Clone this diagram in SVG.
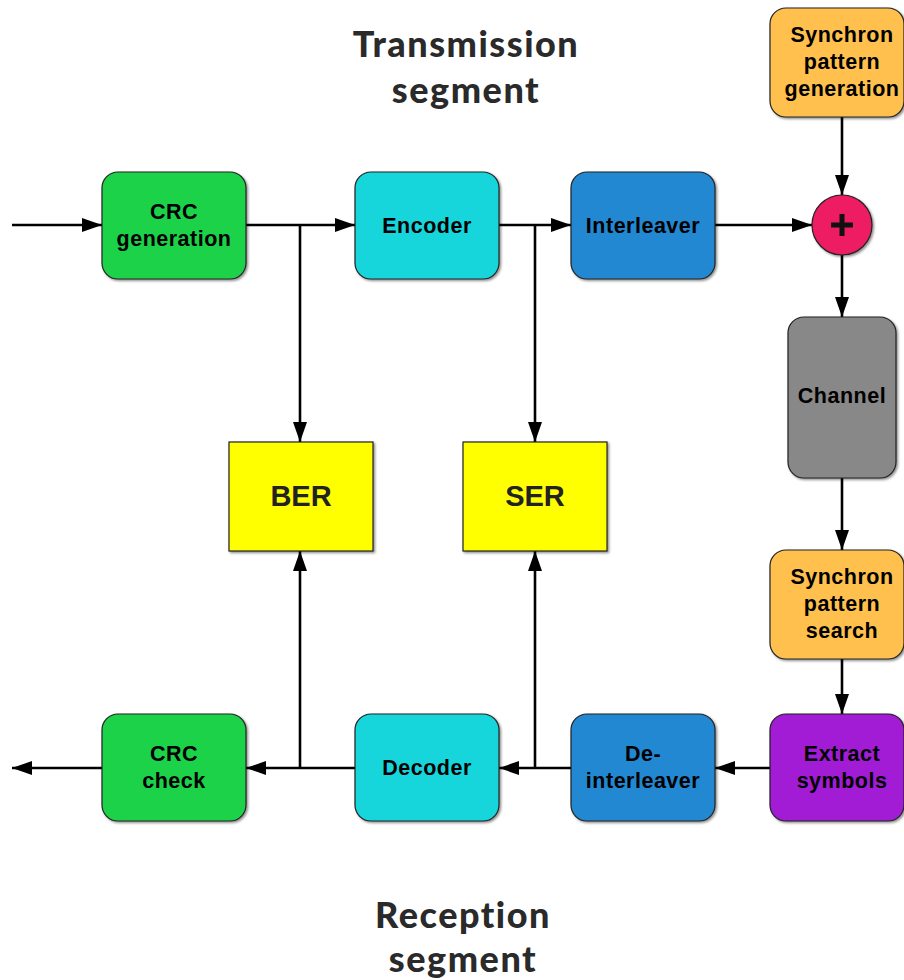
<svg xmlns="http://www.w3.org/2000/svg" width="904" height="980" viewBox="0 0 904 980">
  <defs>
    <marker id="arrow" viewBox="0 0 20 14" refX="20" refY="7" markerWidth="20" markerHeight="14" markerUnits="userSpaceOnUse" orient="auto">
      <path d="M0,0 L20,7 L0,14 Z" fill="#000"/>
    </marker>
    <filter id="shadow" x="-10%" y="-10%" width="130%" height="130%">
      <feDropShadow dx="1.5" dy="1.5" stdDeviation="0.8" flood-color="#000" flood-opacity="0.45"/>
    </filter>
  </defs>
  <style>
    .box { stroke: #222; stroke-width: 1.2; filter: url(#shadow); }
    .lbl { font-family: "Liberation Sans", Arial, sans-serif; font-weight: bold; font-size: 21.5px; letter-spacing: 0.5px; fill: #000; text-anchor: middle; }
    .big { font-family: "Liberation Sans", Arial, sans-serif; font-weight: bold; font-size: 29px; fill: #222; text-anchor: middle; }
    .title { font-family: "Lato", "Liberation Sans", sans-serif; font-weight: 900; font-size: 36px; fill: #2a2a2a; text-anchor: middle; letter-spacing: 1.5px; }
    .wire { stroke: #000; stroke-width: 2.6; fill: none; }
  </style>
  <rect width="904" height="980" fill="#fff"/>

  <g id="titles">
    <text class="title" x="466" y="57">Transmission</text>
    <text class="title" x="466" y="103">segment</text>
    <text class="title" x="463" y="928">Reception</text>
    <text class="title" x="463" y="972">segment</text>
  </g>

  <g id="connectors">
    <path class="wire" d="M12,225 H102" marker-end="url(#arrow)"/>
    <path class="wire" d="M246,225 H355" marker-end="url(#arrow)"/>
    <path class="wire" d="M300,225 V442" marker-end="url(#arrow)"/>
    <path class="wire" d="M499,225 H571" marker-end="url(#arrow)"/>
    <path class="wire" d="M535,225 V442" marker-end="url(#arrow)"/>
    <path class="wire" d="M715,225 H812" marker-end="url(#arrow)"/>
    <path class="wire" d="M842,117 V195" marker-end="url(#arrow)"/>
    <path class="wire" d="M842,255 V317" marker-end="url(#arrow)"/>
    <path class="wire" d="M842,478 V550" marker-end="url(#arrow)"/>
    <path class="wire" d="M842,659 V714" marker-end="url(#arrow)"/>
    <path class="wire" d="M770,768 H715" marker-end="url(#arrow)"/>
    <path class="wire" d="M571,768 H499" marker-end="url(#arrow)"/>
    <path class="wire" d="M535,768 V551" marker-end="url(#arrow)"/>
    <path class="wire" d="M355,768 H246" marker-end="url(#arrow)"/>
    <path class="wire" d="M300,768 V551" marker-end="url(#arrow)"/>
    <path class="wire" d="M102,768 H12" marker-end="url(#arrow)"/>
  </g>

  <g id="crc-generation">
    <rect class="box" x="102" y="172" width="144" height="107" rx="16" fill="#1ED248"/>
    <text class="lbl" x="174" y="219">CRC</text>
    <text class="lbl" x="174" y="246">generation</text>
  </g>
  <g id="encoder">
    <rect class="box" x="355" y="172" width="144" height="107" rx="16" fill="#17D6DC"/>
    <text class="lbl" x="427" y="233">Encoder</text>
  </g>
  <g id="interleaver">
    <rect class="box" x="571" y="172" width="144" height="107" rx="16" fill="#2288D2"/>
    <text class="lbl" x="643" y="233">Interleaver</text>
  </g>
  <g id="sync-generation">
    <rect class="box" x="770" y="8" width="134" height="109" rx="16" fill="#FFC04D"/>
    <text class="lbl" x="842" y="42">Synchron</text>
    <text class="lbl" x="842" y="69">pattern</text>
    <text class="lbl" x="842" y="96">generation</text>
  </g>
  <g id="adder">
    <circle class="box" cx="842" cy="225" r="30" fill="#EE1A64"/>
    <path d="M842,214 V236 M831,225 H853" stroke="#111" stroke-width="5"/>
  </g>
  <g id="channel">
    <rect class="box" x="788" y="317" width="108" height="161" rx="16" fill="#888888"/>
    <text class="lbl" x="842" y="403">Channel</text>
  </g>
  <g id="sync-search">
    <rect class="box" x="770" y="550" width="134" height="109" rx="16" fill="#FFC04D"/>
    <text class="lbl" x="842" y="584">Synchron</text>
    <text class="lbl" x="842" y="611">pattern</text>
    <text class="lbl" x="842" y="638">search</text>
  </g>
  <g id="extract-symbols">
    <rect class="box" x="770" y="714" width="134" height="107" rx="16" fill="#A21AD6"/>
    <text class="lbl" x="842" y="761">Extract</text>
    <text class="lbl" x="842" y="788">symbols</text>
  </g>
  <g id="deinterleaver">
    <rect class="box" x="571" y="714" width="144" height="107" rx="16" fill="#2288D2"/>
    <text class="lbl" x="643" y="761">De-</text>
    <text class="lbl" x="643" y="788">interleaver</text>
  </g>
  <g id="decoder">
    <rect class="box" x="355" y="714" width="144" height="107" rx="16" fill="#17D6DC"/>
    <text class="lbl" x="427" y="775">Decoder</text>
  </g>
  <g id="crc-check">
    <rect class="box" x="102" y="714" width="144" height="107" rx="16" fill="#1ED248"/>
    <text class="lbl" x="174" y="761">CRC</text>
    <text class="lbl" x="174" y="788">check</text>
  </g>
  <g id="ber">
    <rect class="box" x="229" y="442" width="144" height="109" fill="#FFFF00"/>
    <text class="big" x="301" y="506">BER</text>
  </g>
  <g id="ser">
    <rect class="box" x="463" y="442" width="144" height="109" fill="#FFFF00"/>
    <text class="big" x="535" y="506">SER</text>
  </g>
</svg>
